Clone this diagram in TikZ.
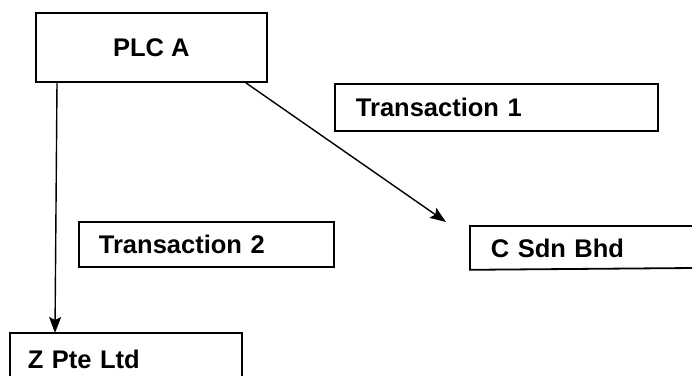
\documentclass[tikz,border=0pt]{standalone}
\usepackage{fontspec}
\setmainfont{Liberation Sans}
\usetikzlibrary{arrows.meta}
\begin{document}
\begin{tikzpicture}[x=1pt,y=-1pt,
  box/.style={draw, line width=1.8pt, anchor=north west, inner ysep=0pt,
    font=\bfseries\fontsize{25.5}{27}\selectfont},
  lbox/.style={box, align=left},
  open/.style={line width=1.8pt},
  arr/.style={line width=1.4pt, -{Stealth[length=16pt,width=12pt,inset=3pt]}}]
\useasboundingbox (0,0) rectangle (692,375);
\node[box, minimum width=231pt, minimum height=69pt, inner xsep=0pt] (plc) at (35,12) {PLC A};
\node[lbox, inner xsep=21pt, text width=281pt, minimum height=47pt] (t1) at (334,83) {Transaction 1};
\node[lbox, inner xsep=20pt, text width=215pt, minimum height=45pt] (t2) at (78,221) {Transaction 2};
\node[lbox, draw=none, inner xsep=20pt, text width=180pt, minimum height=42pt] (c) at (470,226) {C Sdn Bhd};
\draw[open] (693,226) -- (c.north west) -- (c.south west) -- (693,268);
\node[lbox, draw=none, inner xsep=17pt, text width=196pt, minimum height=50pt] (z) at (10,333) {Z Pte Ltd};
\draw[open] (z.north west |- 0,376) -- (z.north west) -- (z.north east) -- (z.north east |- 0,376);
\draw[arr] ([xshift=22pt]plc.south west) -- ([xshift=45pt]z.north west);
\draw[arr] ([xshift=-22pt]plc.south east) -- ([xshift=-24pt,yshift=4pt]c.north west);
\end{tikzpicture}
\end{document}
